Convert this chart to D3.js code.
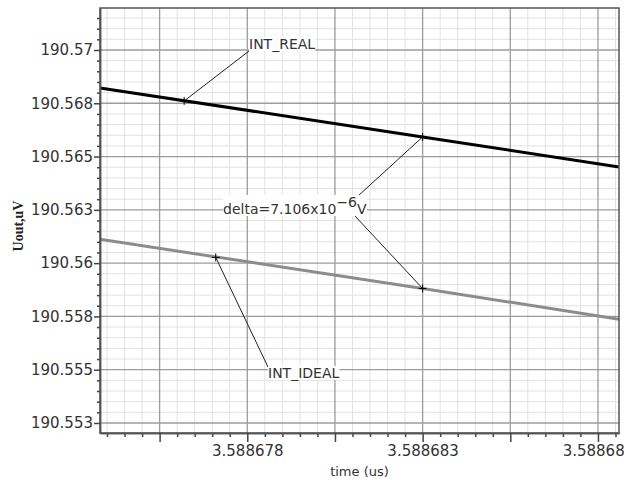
<!DOCTYPE html>
<html>
<head>
<meta charset="utf-8">
<script src="https://cdn.jsdelivr.net/npm/d3@7"></script>
<style>
  body { margin: 0; background: #fff; }
  svg { display: block; }
</style>
</head>
<body>
<div id="chart"></div>
<script>
var timeUs   = [3.5886738, 3.588683, 3.5886886];
var intReal  = [190.56822, 190.56592, 190.56451];
var intIdeal = [190.56112, 190.55881, 190.55737];

var xTicks      = [3.5886755, 3.588678, 3.5886805, 3.588683, 3.5886855, 3.588688];
var xTickLabels = ["", "3.588678", "", "3.588683", "", "3.588688"];
var yTicks      = [190.5525, 190.555, 190.5575, 190.56, 190.5625, 190.565, 190.5675, 190.57];
var yTickLabels = ["190.553", "190.555", "190.558", "190.56", "190.563", "190.565", "190.568", "190.57"];

// markers: [time, value]
var realMark   = [3.5886762, 190.56761];
var idealMark  = [3.5886771, 190.56027];
var deltaMarkA = [3.588683, 190.56592];
var deltaMarkB = [3.588683, 190.55881];

var svgWidth = 624;
var svgHeight = 480;
var plot = { left: 100, right: 619, top: 8, bottom: 433 };

var svg = d3.select("#chart")
  .append("svg")
  .attr("width", svgWidth)
  .attr("height", svgHeight);

var x = d3.scaleLinear()
  .domain([3.5886738, 3.5886886])
  .range([plot.left, plot.right]);

var y = d3.scaleLinear()
  .domain([190.55203, 190.57197])
  .range([plot.bottom, plot.top]);

// minor positions: 5 subdivisions per major step
function minors(scale, base, step) {
  var d = scale.domain();
  var k0 = Math.ceil((d[0] - base) / step - 1e-6);
  var k1 = Math.floor((d[1] - base) / step + 1e-6);
  return d3.range(k0, k1 + 1)
    .filter(function(k) { return k % 5 !== 0; })
    .map(function(k) { return base + k * step; });
}
var xMinor = minors(x, xTicks[0], 0.0000005);
var yMinor = minors(y, yTicks[0], 0.0005);

var grid = svg.append("g");

grid.selectAll(".vminor").data(xMinor).enter().append("line")
  .attr("x1", function(d) { return x(d); }).attr("x2", function(d) { return x(d); })
  .attr("y1", plot.top).attr("y2", plot.bottom)
  .attr("stroke", "#e2e2e2").attr("stroke-width", 1);

grid.selectAll(".hminor").data(yMinor).enter().append("line")
  .attr("y1", function(d) { return y(d); }).attr("y2", function(d) { return y(d); })
  .attr("x1", plot.left).attr("x2", plot.right)
  .attr("stroke", "#e2e2e2").attr("stroke-width", 1);

grid.selectAll(".vmajor").data(xTicks).enter().append("line")
  .attr("x1", function(d) { return x(d); }).attr("x2", function(d) { return x(d); })
  .attr("y1", plot.top).attr("y2", plot.bottom)
  .attr("stroke", "#9c9c9c").attr("stroke-width", 1.3);

grid.selectAll(".hmajor").data(yTicks).enter().append("line")
  .attr("y1", function(d) { return y(d); }).attr("y2", function(d) { return y(d); })
  .attr("x1", plot.left).attr("x2", plot.right)
  .attr("stroke", "#9c9c9c").attr("stroke-width", 1.3);

// traces
var line = d3.line()
  .x(function(d) { return x(d[0]); })
  .y(function(d) { return y(d[1]); });

svg.append("path")
  .datum(d3.zip(timeUs, intIdeal))
  .attr("fill", "none")
  .attr("stroke", "#8c8c8c")
  .attr("stroke-width", 3)
  .attr("d", line);

svg.append("path")
  .datum(d3.zip(timeUs, intReal))
  .attr("fill", "none")
  .attr("stroke", "#000")
  .attr("stroke-width", 3)
  .attr("d", line);

// frame
svg.append("rect")
  .attr("x", plot.left).attr("y", plot.top)
  .attr("width", plot.right - plot.left).attr("height", plot.bottom - plot.top)
  .attr("fill", "none").attr("stroke", "#555").attr("stroke-width", 1.5);

// axes
var leftAxis = d3.axisLeft(y)
  .tickValues(yTicks)
  .tickFormat(function(d, i) { return yTickLabels[i]; })
  .tickSize(6).tickPadding(1).tickSizeOuter(0);

var leftMinor = d3.axisLeft(y)
  .tickValues(yMinor).tickFormat("").tickSize(3).tickSizeOuter(0);

var bottomAxis = d3.axisBottom(x)
  .tickValues(xTicks)
  .tickFormat(function(d, i) { return xTickLabels[i]; })
  .tickSize(9).tickPadding(3).tickSizeOuter(0);

var bottomMinor = d3.axisBottom(x)
  .tickValues(xMinor).tickFormat("").tickSize(4).tickSizeOuter(0);

function styleAxis(g) {
  g.select(".domain").attr("stroke", "#555").attr("stroke-width", 1.5);
  g.selectAll(".tick line").attr("stroke", "#444").attr("stroke-width", 1.5);
  g.selectAll(".tick text")
    .attr("fill", "#333")
    .style("font-family", "DejaVu Sans")
    .style("font-size", "15px");
}

svg.append("g").attr("transform", "translate(" + plot.left + ",0)").call(leftMinor).call(styleAxis);
svg.append("g").attr("transform", "translate(" + plot.left + ",0)").call(leftAxis).call(styleAxis);
svg.append("g").attr("transform", "translate(0," + plot.bottom + ")").call(bottomMinor).call(styleAxis);
svg.append("g").attr("transform", "translate(0," + plot.bottom + ")").call(bottomAxis).call(styleAxis);

svg.append("text")
  .attr("transform", "translate(23,226) rotate(-90)")
  .attr("text-anchor", "middle")
  .style("font-family", "Liberation Serif")
  .style("font-weight", "bold")
  .style("font-size", "14px")
  .attr("fill", "#222")
  .text("Uout,uV");

svg.append("text")
  .attr("x", (plot.left + plot.right) / 2)
  .attr("y", 476)
  .attr("text-anchor", "middle")
  .style("font-family", "DejaVu Sans")
  .style("font-size", "13px")
  .attr("fill", "#333")
  .text("time (us)");

// annotations
var notes = svg.append("g");

function leader(p, tx, ty) {
  notes.append("line")
    .attr("x1", x(p[0])).attr("y1", y(p[1]))
    .attr("x2", tx).attr("y2", ty)
    .attr("stroke", "#222").attr("stroke-width", 1);
}

leader(realMark, 249, 51);
leader(idealMark, 268, 367);
leader(deltaMarkA, 358, 196);
leader(deltaMarkB, 355, 216);

function label(tx, ty, build) {
  var g = notes.append("g");
  var t = g.append("text")
    .attr("x", tx).attr("y", ty)
    .style("font-family", "DejaVu Sans")
    .style("font-size", "14px")
    .attr("fill", "#333");
  build(t);
  var b = t.node().getBBox();
  g.insert("rect", "text")
    .attr("x", b.x).attr("y", b.y + 1)
    .attr("width", b.width).attr("height", b.height - 2)
    .attr("fill", "#fff");
}

label(249, 49, function(t) { t.text("INT_REAL"); });
label(268, 378, function(t) { t.text("INT_IDEAL"); });
label(223, 214, function(t) {
  t.append("tspan").text("delta=7.106x10");
  t.append("tspan").attr("dy", -7).text("\u22126");
  t.append("tspan").attr("dy", 7).text("V");
});

notes.selectAll(".mark")
  .data([realMark, idealMark, deltaMarkA, deltaMarkB])
  .enter().append("path")
  .attr("transform", function(d) { return "translate(" + x(d[0]) + "," + y(d[1]) + ")"; })
  .attr("d", "M-4,0H4M0,-4V4")
  .attr("stroke", "#000")
  .attr("stroke-width", 1);
</script>
</body>
</html>
